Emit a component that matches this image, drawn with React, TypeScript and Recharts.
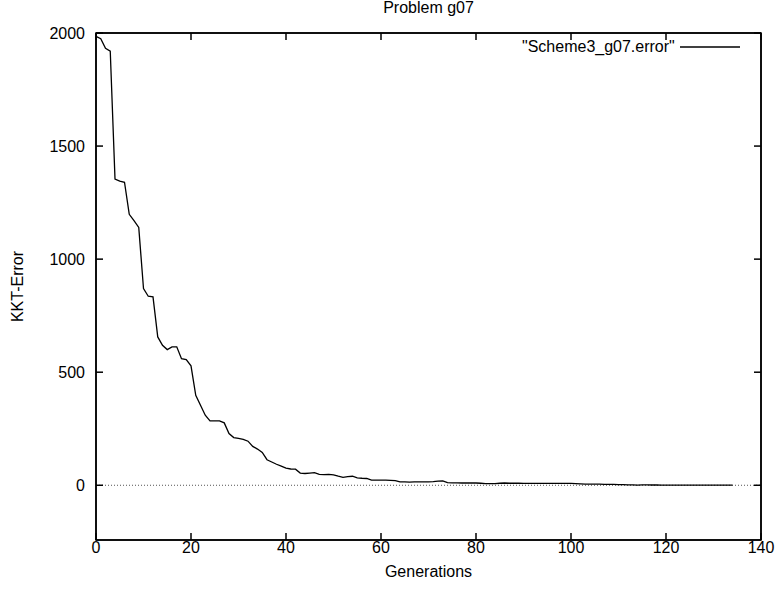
import { LineChart, Line, XAxis, YAxis, ReferenceLine, Label } from "recharts";

// KKT error per generation (index = generation)
const kktError = [
  1985, 1975, 1932, 1920, 1354, 1345, 1340, 1198, 1170, 1140,
  870, 836, 833, 656, 619, 600, 612, 612, 560, 556,
  528, 398, 354, 310, 285, 285, 285, 276, 229, 211,
  207, 203, 195, 172, 160, 145, 113, 103, 93, 85,
  76, 72, 71, 54, 52, 54, 56, 48, 47, 48,
  46, 40, 35, 38, 40, 33, 31, 30, 23, 23,
  23, 23, 22, 21, 15, 15, 14, 15, 15, 15,
  15, 16, 18, 19, 12, 11, 11, 10, 10, 10,
  10, 9, 7, 7, 7, 9, 10, 9, 9, 9,
  8, 8, 8, 8, 8, 8, 8, 8, 8, 8,
  8, 7, 6, 5, 5, 5, 5, 4, 4, 4,
  3, 3, 2, 2, 1, 1.5, 1.5, 1.2, 1.2, 1,
  1, 1, 1, 0.8, 0.8, 0.8, 0.6, 0.6, 0.6, 0.5,
  0.5, 0.5, 0.4, 0.4, 0.4,
];

const xTicks = [0, 20, 40, 60, 80, 100, 120, 140];
const yTicks = [0, 500, 1000, 1500, 2000];
const xDomain = [0, 140];
const yDomain = [-242, 2000];

const seriesName = '"Scheme3_g07.error"';
const title = "Problem g07";

const FONT = "'Liberation Sans', Arial, Helvetica, sans-serif";

const data = kktError.map((err, gen) => ({ gen, err }));

const NoLabel = () => <g />;
const frameLine = { stroke: "#000", strokeWidth: 1.5 };

export default function App() {
  const tickStyle = { fontSize: 16, fontFamily: FONT, fill: "#000" };
  return (
    <div style={{ position: "absolute", left: 0, top: 0, width: 779, height: 590, background: "#fff" }}>
      <div
        style={{
          position: "absolute",
          left: 96,
          width: 665,
          top: -1,
          textAlign: "center",
          fontFamily: FONT,
          fontSize: 16,
          lineHeight: "18px",
          color: "#000",
        }}
      >
        {title}
      </div>
      {/* key, top right inside the frame */}
      <div
        style={{
          position: "absolute",
          top: 38,
          left: 522,
          display: "flex",
          alignItems: "center",
          fontFamily: FONT,
          fontSize: 16,
          lineHeight: "18px",
          color: "#000",
          zIndex: 2,
        }}
      >
        <span>{seriesName}</span>
        <svg width={66} height={10} style={{ marginLeft: 5 }}>
          <line x1={0} y1={5} x2={60} y2={5} stroke="#000" strokeWidth={1.3} />
        </svg>
      </div>
      <div style={{ position: "absolute", left: 0, top: 0 }}>
        <LineChart width={779} height={590} data={data} margin={{ top: 22, right: 7, bottom: 0, left: 0 }}>
          <XAxis
            dataKey="gen"
            type="number"
            domain={xDomain}
            ticks={xTicks}
            height={50}
            axisLine={frameLine}
            tickLine={frameLine}
            tickSize={-7}
            tickMargin={9}
            tick={tickStyle}
            interval={0}
          >
            <Label value="Generations" position="insideTop" offset={26} style={{ ...tickStyle, textAnchor: "middle" }} />
          </XAxis>
          <XAxis
            xAxisId="top"
            dataKey="gen"
            orientation="top"
            type="number"
            domain={xDomain}
            ticks={xTicks}
            height={11}
            axisLine={frameLine}
            tickLine={frameLine}
            tickSize={-7}
            tick={NoLabel}
            interval={0}
          />
          <YAxis
            type="number"
            domain={yDomain}
            ticks={yTicks}
            width={96}
            axisLine={frameLine}
            tickLine={frameLine}
            tickSize={-7}
            tickMargin={18}
            tick={tickStyle}
            interval={0}
          >
            <Label
              value="KKT-Error"
              angle={-90}
              position="insideLeft"
              offset={17}
              style={{ ...tickStyle, textAnchor: "middle" }}
            />
          </YAxis>
          <YAxis
            yAxisId="right"
            orientation="right"
            type="number"
            domain={yDomain}
            ticks={yTicks}
            width={11}
            axisLine={frameLine}
            tickLine={frameLine}
            tickSize={-7}
            tick={NoLabel}
            interval={0}
          />
          <ReferenceLine y={0} stroke="#555" strokeDasharray="1 2" />
          {/* invisible copy so the mirrored axes have a series */}
          <Line
            xAxisId="top"
            yAxisId="right"
            dataKey="err"
            stroke="none"
            dot={false}
            activeDot={false}
            legendType="none"
            isAnimationActive={false}
          />
          <Line
            dataKey="err"
            name={seriesName}
            type="linear"
            stroke="#000"
            strokeWidth={1.3}
            dot={false}
            activeDot={false}
            isAnimationActive={false}
          />
        </LineChart>
      </div>
      {/* gnuplot frame drawn on top of the chart */}
      <svg
        width={779}
        height={590}
        style={{ position: "absolute", left: 0, top: 0, pointerEvents: "none", zIndex: 3 }}
      >
        <rect x={96} y={33} width={665} height={507} fill="none" stroke="#000" strokeWidth={1.5} />
      </svg>
    </div>
  );
}
